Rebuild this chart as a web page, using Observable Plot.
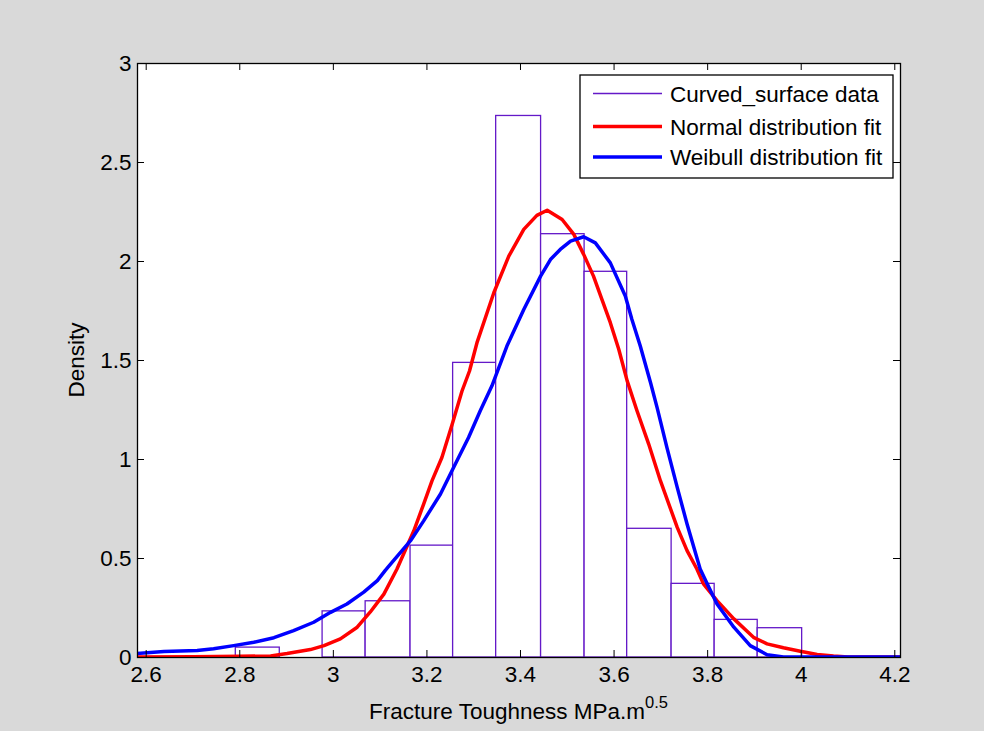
<!DOCTYPE html>
<html>
<head>
<meta charset="utf-8">
<script src="https://cdn.jsdelivr.net/npm/d3@7"></script>
<script src="https://cdn.jsdelivr.net/npm/@observablehq/plot@0.6"></script>
<style>
  html, body { margin: 0; padding: 0; background: #d9d9d9; }
  #chart { width: 984px; height: 731px; }
  svg { display: block; }
</style>
</head>
<body>
<div id="chart"></div>
<script>
// ---- Data ----
const binEdges = [2.7915, 2.8855, 2.977, 3.069, 3.165, 3.256, 3.348, 3.444, 3.537, 3.628, 3.723, 3.815, 3.907, 4.002];
const binDensity = [0.05, 0, 0.233, 0.284, 0.565, 1.488, 2.735, 2.138, 1.948, 0.65, 0.372, 0.19, 0.148];

const normalX = [2.58, 2.70, 2.80, 2.866, 2.901, 2.951, 2.98, 3.015, 3.051, 3.079, 3.108, 3.136, 3.172, 3.193, 3.211, 3.232, 3.254, 3.275, 3.291, 3.307, 3.343, 3.375, 3.407, 3.435, 3.457, 3.489, 3.514, 3.535, 3.556, 3.574, 3.592, 3.61, 3.628, 3.649, 3.674, 3.699, 3.735, 3.756, 3.777, 3.791, 3.82, 3.856, 3.898, 3.927, 3.962, 3.998, 4.034, 4.069, 4.10, 4.215];
const normalY = [0.003, 0.004, 0.006, 0.008, 0.02, 0.04, 0.06, 0.094, 0.153, 0.23, 0.32, 0.447, 0.64, 0.775, 0.893, 1.01, 1.178, 1.346, 1.447, 1.59, 1.842, 2.027, 2.162, 2.233, 2.259, 2.212, 2.137, 2.036, 1.926, 1.809, 1.691, 1.557, 1.397, 1.246, 1.078, 0.893, 0.657, 0.54, 0.447, 0.372, 0.287, 0.195, 0.102, 0.069, 0.049, 0.032, 0.015, 0.007, 0.003, 0.002];

const weibullX = [2.58, 2.638, 2.709, 2.744, 2.787, 2.83, 2.873, 2.915, 2.958, 2.994, 3.029, 3.065, 3.094, 3.111, 3.129, 3.165, 3.193, 3.229, 3.257, 3.289, 3.314, 3.339, 3.371, 3.407, 3.443, 3.464, 3.485, 3.507, 3.535, 3.56, 3.592, 3.624, 3.638, 3.656, 3.678, 3.692, 3.713, 3.735, 3.756, 3.784, 3.799, 3.82, 3.856, 3.891, 3.927, 3.962, 4.215];
const weibullY = [0.02, 0.03, 0.035, 0.044, 0.06, 0.077, 0.10, 0.136, 0.178, 0.228, 0.27, 0.33, 0.388, 0.44, 0.49, 0.59, 0.69, 0.826, 0.96, 1.111, 1.246, 1.372, 1.573, 1.758, 1.926, 2.01, 2.061, 2.103, 2.125, 2.094, 1.993, 1.826, 1.708, 1.573, 1.388, 1.262, 1.06, 0.859, 0.674, 0.447, 0.372, 0.27, 0.153, 0.06, 0.014, 0.003, 0.003];

const xTicks = [2.6, 2.8, 3, 3.2, 3.4, 3.6, 3.8, 4, 4.2];
const yTicks = [0, 0.5, 1, 1.5, 2, 2.5, 3];
const xDomain = [2.5814, 4.2122];
const yDomain = [0, 3];

const seriesNames = ["Curved_surface data", "Normal distribution fit", "Weibull distribution fit"];
const seriesColors = ["#6419c8", "#ff0000", "#0000ff"];
const xLabel = "Fracture Toughness MPa.m";
const xLabelSup = "0.5";
const yLabel = "Density";

// ---- Build tables ----
const bins = binDensity.map((d, i) => ({x1: binEdges[i], x2: binEdges[i + 1], y: d}));
const normal = normalX.map((x, i) => ({x, y: normalY[i]}));
const weibull = weibullX.map((x, i) => ({x, y: weibullY[i]}));

// ---- Layout ----
const W = 984, H = 731;
const mL = 137, mR = 84, mT = 63, mB = 74;
const fw = W - mL - mR, fh = H - mT - mB;
const tick = 7;
const fs = 22.5;
const font = "'Liberation Sans', Arial, Helvetica, sans-serif";

const chart = Plot.plot({
  width: W, height: H,
  marginLeft: mL, marginRight: mR, marginTop: mT, marginBottom: mB,
  style: {background: "transparent", fontFamily: font, fontSize: fs + "px", color: "black"},
  x: {domain: xDomain},
  y: {domain: yDomain},
  marks: [
    Plot.frame({fill: "white", stroke: null}),
    Plot.rectY(bins, {x1: "x1", x2: "x2", y: "y", fill: "white", stroke: seriesColors[0], strokeWidth: 1.3}),
    Plot.line(normal, {x: "x", y: "y", stroke: seriesColors[1], strokeWidth: 3.5, clip: true}),
    Plot.line(weibull, {x: "x", y: "y", stroke: seriesColors[2], strokeWidth: 3.5, clip: true}),
    // inward ticks on all four sides
    Plot.tickX(xTicks, {x: d => d, insetTop: fh - tick, stroke: "black", strokeWidth: 1}),
    Plot.tickX(xTicks, {x: d => d, insetBottom: fh - tick, stroke: "black", strokeWidth: 1}),
    Plot.tickY(yTicks, {y: d => d, insetRight: fw - tick, stroke: "black", strokeWidth: 1}),
    Plot.tickY(yTicks, {y: d => d, insetLeft: fw - tick, stroke: "black", strokeWidth: 1}),
    Plot.frame({stroke: "black", strokeWidth: 1.3}),
    Plot.axisX({ticks: xTicks, tickSize: 0, tickPadding: 9, tickFormat: d => String(d), label: null, fontSize: fs}),
    Plot.axisY({ticks: yTicks, tickSize: 0, tickPadding: 6, tickFormat: d => String(d), label: null, fontSize: fs})
  ]
});

document.getElementById("chart").appendChild(chart);

// ---- Axis titles and legend ----
const svg = d3.select(chart);
const cx = mL + fw / 2;

const xt = svg.append("text")
  .attr("x", cx).attr("y", 719)
  .attr("text-anchor", "middle")
  .attr("font-family", font).attr("font-size", fs).attr("fill", "black");
xt.append("tspan").text(xLabel);
xt.append("tspan").attr("dy", -11).attr("font-size", 16.5).text(xLabelSup);

svg.append("text")
  .attr("transform", `translate(84,${mT + fh / 2}) rotate(-90)`)
  .attr("text-anchor", "middle")
  .attr("font-family", font).attr("font-size", fs).attr("fill", "black")
  .text(yLabel);

const lg = svg.append("g");
lg.append("rect").attr("x", 580).attr("y", 75).attr("width", 313).attr("height", 103)
  .attr("fill", "white").attr("stroke", "black").attr("stroke-width", 1.3);
const rowsY = [93.5, 126.5, 157];
const widths = [1.3, 3.5, 3.5];
seriesNames.forEach((name, i) => {
  lg.append("line").attr("x1", 593).attr("x2", 662).attr("y1", rowsY[i]).attr("y2", rowsY[i])
    .attr("stroke", seriesColors[i]).attr("stroke-width", widths[i]);
  lg.append("text").attr("x", 670).attr("y", rowsY[i]).attr("dy", "0.36em")
    .attr("text-anchor", "start")
    .attr("font-family", font).attr("font-size", fs).attr("fill", "black").text(name);
});
</script>
</body>
</html>
